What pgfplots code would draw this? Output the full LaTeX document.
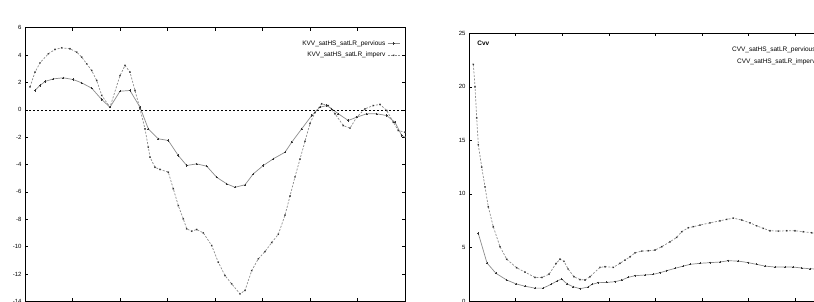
\documentclass[border=0pt]{standalone}
\usepackage{pgfplots}
\pgfplotsset{compat=1.18}
\usepackage{fontspec}
\setmainfont{Liberation Sans}
\definecolor{linegray}{gray}{0.55}
\definecolor{markgray}{gray}{0.2}
\pgfplotsset{
  gp/.style={
    scale only axis,
    axis line style={black, line width=0.8pt},
    tick align=inside,
    major tick length=3pt,
    tick style={black, line width=0.6pt},
    tick label style={font=\fontsize{6}{7}\selectfont},
    /pgf/number format/assume math mode=true,
    xticklabels={},
    legend cell align=right,
    legend plot pos=right,
    legend image code/.code={\draw[mark repeat=2,mark phase=2,##1] plot coordinates {(0cm,0cm)(0.21cm,0cm)(0.42cm,0cm)};},
    legend style={draw=none, fill=none, font=\fontsize{6.5}{7}\selectfont,
      row sep=1.5pt, inner sep=1pt},
  },
  perv/.style={color=linegray, line width=0.7pt, mark=+, mark size=1.1pt,
    mark options={color=markgray, solid, line width=0.5pt}},
  imp/.style={color=linegray, line width=0.7pt, dashed, dash pattern=on 2pt off 1.5pt,
    mark=x, mark size=0.9pt, mark options={color=markgray, solid, line width=0.5pt}},
}
\begin{document}
\begin{tikzpicture}
\useasboundingbox (0,0) rectangle (814pt,302pt);
\clip (0,0) rectangle (814pt,302pt);
% ---------------- left panel ----------------
\begin{axis}[gp,
  at={(25pt,0.6pt)}, anchor=south west,
  width=380pt, height=273.7pt,
  xmin=25, xmax=405, ymin=-14, ymax=6,
  xtick={25,72.5,120,167.5,215,262.5,310,357.5,405},
  ytick={-14,-12,-10,-8,-6,-4,-2,0,2,4,6},
  legend style={at={(rel axis cs:0.99,0.965)}, anchor=north east},
]
\addplot[perv] coordinates {
(35,1.41)(40,1.78)(45,2.07)(53.3,2.26)(63.3,2.34)(73.3,2.21)(81.7,1.97)(91.7,1.58)
(101.7,0.75)(110,0.19)(120,1.36)(130,1.41)(140,0.19)(148.3,-1.39)(158.3,-2.12)
(168.3,-2.24)(178.3,-3.34)(186.7,-4.07)(196.7,-3.95)(206.7,-4.12)(216.7,-4.93)
(226.7,-5.41)(235,-5.66)(245,-5.48)(253.3,-4.68)(263.3,-4.07)(273.3,-3.58)(285,-3.1)
(291.7,-2.37)(301.7,-1.39)(311.7,-0.42)(320,0.19)(326.7,0.31)(331.7,0.07)(338.3,-0.29)
(348.3,-0.78)(356.7,-0.54)(366.7,-0.29)(376.7,-0.29)(386.7,-0.42)(395,-0.91)
(401.7,-1.88)(405,-2.0)};
\addlegendentry{KVV\_satHS\_satLR\_pervious}
\addplot[imp] coordinates {
(30,1.68)(35,2.75)(40,3.43)(48.3,4.09)(55,4.41)(61.7,4.53)(70,4.46)(76.7,4.21)
(81.7,3.85)(86.7,3.36)(91.7,2.87)(96.7,2.14)(101.7,1.05)(110,0.19)(120,2.5)(125,3.24)
(130,2.75)(135,1.41)(140,0.07)(145,-1.39)(148.3,-2.73)(150,-3.46)(155,-4.2)(160,-4.36)
(168.3,-4.56)(173.3,-5.77)(178.3,-7.0)(183.3,-7.97)(186.7,-8.7)(191.7,-8.87)
(196.7,-8.75)(203.3,-8.99)(211.7,-9.92)(218.3,-11.14)(225,-12.11)(231.7,-12.72)
(240,-13.45)(245,-13.2)(251.7,-11.75)(258.3,-10.89)(265,-10.36)(271.7,-9.7)
(278.3,-9.1)(285,-7.7)(290,-6.3)(295,-4.9)(300,-3.6)(305,-2.3)(310,-1.0)(315,-0.2)
(321.7,0.44)(328.3,0.31)(335,-0.29)(343.3,-1.15)(350,-1.34)(356.7,-0.54)(365,0.07)
(373.3,0.31)(380,0.39)(386.7,-0.05)(393.3,-0.91)(398.3,-1.51)(405,-1.64)};
\addlegendentry{KVV\_satHS\_satLR\_imperv}
\addplot[black, line width=0.6pt, dashed, dash pattern=on 2pt off 2pt, forget plot]
  coordinates {(25,0)(405,0)};
\end{axis}
% ---------------- right panel ----------------
\begin{axis}[gp,
  at={(469pt,1pt)}, anchor=south west,
  width=372.8pt, height=267.7pt,
  xmin=469, xmax=841.8, ymin=0, ymax=25,
  xtick={469,515.6,562.2,608.8,655.4,702,748.6,795.2,841.8},
  ytick={0,5,10,15,20,25},
  legend style={at={(rel axis cs:0.972,0.962)}, anchor=north east},
]
\node[anchor=west, font=\fontsize{6.5}{7}\selectfont\bfseries] at (rel axis cs:0.013,0.962) {Cvv};
\addplot[perv] coordinates {
(478.3,6.31)(487,3.55)(496,2.58)(506.7,1.96)(516,1.6)(525,1.38)(535,1.2)(543,1.2)
(551,1.55)(557,1.87)(561.7,2.05)(567,1.6)(573.3,1.33)(580,1.15)(588,1.3)(592,1.55)
(598.3,1.71)(606.7,1.74)(615,1.8)(621.7,1.96)(628.3,2.21)(635,2.36)(645,2.43)
(653.3,2.49)(660,2.64)(666.7,2.83)(675,3.05)(683.3,3.26)(690,3.42)(700,3.52)(710,3.58)
(720,3.64)(728.3,3.76)(738.3,3.73)(748.3,3.58)(756.7,3.42)(765,3.26)(775,3.17)
(785,3.17)(793.3,3.17)(801.7,3.08)(810,3.01)(818,2.98)};
\addlegendentry{CVV\_satHS\_satLR\_pervious}
\addplot[imp] coordinates {
(473.3,22.1)(475,20.0)(476.7,17.1)(478.3,14.6)(481.7,12.5)(485,10.66)(488.3,8.8)
(493.3,6.93)(500,5.07)(506.7,3.9)(516.7,3.1)(525,2.7)(535,2.2)(542,2.2)(549,2.5)
(556,3.5)(560,3.9)(564,3.7)(568,3.0)(574,2.27)(580,2.0)(585,1.96)(590,2.27)(600,3.14)
(605,3.2)(613.3,3.14)(620,3.52)(625,3.82)(630,4.13)(635,4.5)(641.7,4.66)(648.3,4.69)
(655,4.76)(661.7,5.07)(670,5.53)(676.7,5.94)(681.7,6.47)(688.3,6.84)(693.3,6.94)
(700,7.09)(710,7.3)(720,7.49)(726.7,7.62)(733.3,7.74)(741.7,7.56)(750,7.3)
(756.7,7.02)(763.3,6.78)(770,6.56)(778.3,6.53)(786.7,6.56)(795,6.56)(803.3,6.47)
(811.7,6.37)(818,6.3)};
\addlegendentry{CVV\_satHS\_satLR\_imperv}
\end{axis}
\end{tikzpicture}
\end{document}
